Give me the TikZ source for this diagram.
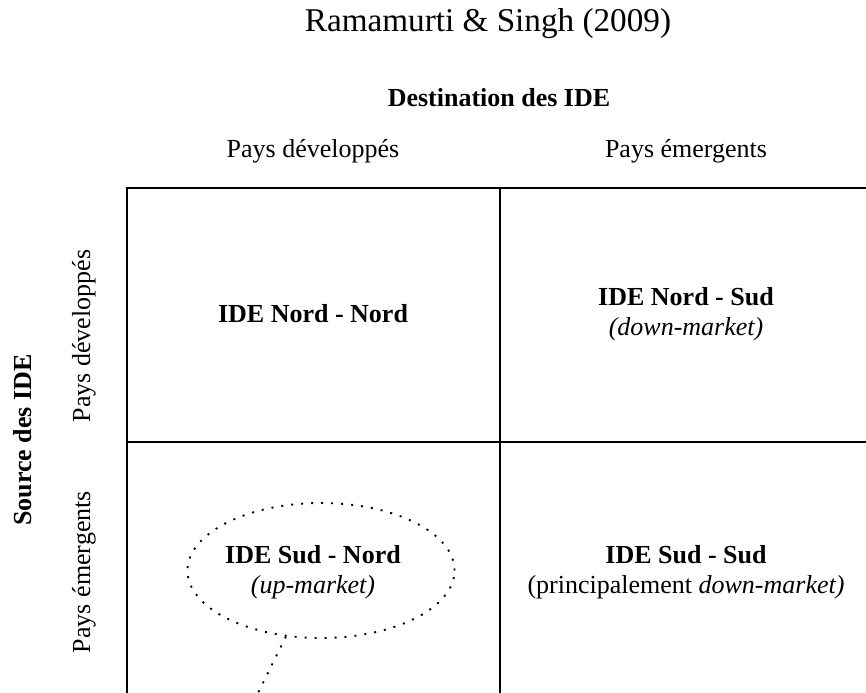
\documentclass[tikz,border=0pt]{standalone}
\usepackage{fontspec}
\setmainfont{Liberation Serif}
\usetikzlibrary{shapes.geometric}
\begin{document}
\begin{tikzpicture}[x=0.75pt,y=-0.75pt]
    \tikzstyle{every node}=[font=\fontsize{19.5}{22.5}\selectfont, inner sep=0pt]
    \tikzstyle{cell}=[align=center]
    \tikzstyle{side}=[rotate=90]
    \def\l{127}
    \def\m{500}
    \def\r{872}
    \def\t{188}
    \def\c{442}
    \def\b{697}
    \useasboundingbox (0,0) rectangle (866,692);
    % titles
    \node[anchor=base, font=\fontsize{24.9}{30}\selectfont] (title) at (488,32) {Ramamurti \& Singh (2009)};
    \node[anchor=base, font=\bfseries\fontsize{19.5}{22.5}\selectfont] (dest) at (499,106) {Destination des IDE};
    \node[anchor=base] (devtop) at (313,157) {Pays développés};
    \node[anchor=base] (emtop) at (686,157) {Pays émergents};
    \node[side, font=\bfseries\fontsize{19.5}{22.5}\selectfont] (source) at (23,440) {Source des IDE};
    \node[side] (devside) at (84,336) {Pays développés};
    \node[side] (emside) at (84,572) {Pays émergents};
    % grid
    \draw[line width=1.5pt] (\l,\b) -- (\l,\t) -- (\r,\t) -- (\r,\b) -- cycle;
    \draw[line width=1.5pt] (\m,\t) -- (\m,\b);
    \draw[line width=1.5pt] (\l,\c) -- (\r,\c);
    % cells
    \node[cell] (nn) at (313,314) {\textbf{IDE Nord - Nord}};
    \node[cell] (ns) at (686,314) {\textbf{IDE Nord - Sud}\\\textit{(down-market)}};
    \node[draw, ellipse, line width=1.4pt, dash pattern=on 1.5pt off 6pt,
          minimum width=267*0.75pt, minimum height=135*0.75pt] (bubble) at (321,570.5) {};
    \node[cell] (sn) at (313,572) {\textbf{IDE Sud - Nord}\\\textit{(up-market)}};
    \node[cell] (ss) at (686,572) {\textbf{IDE Sud - Sud}\\(principalement \textit{down-market)}};
    \coordinate (tail) at (256,697);
    \draw[line width=1.4pt, dash pattern=on 1.5pt off 6pt] (bubble.242) -- (tail);
\end{tikzpicture}
\end{document}
